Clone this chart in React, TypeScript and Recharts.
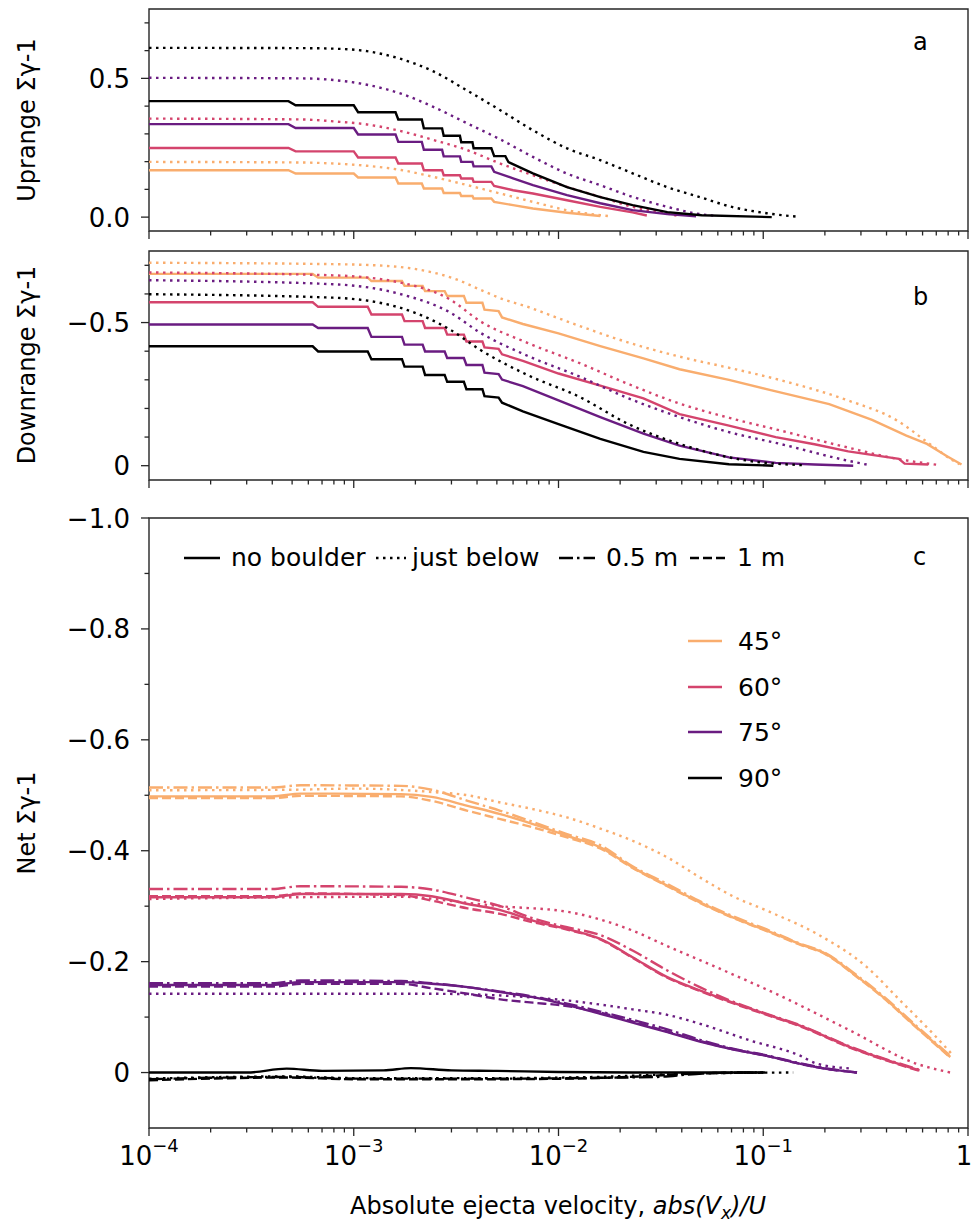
import React from "react";
import { LineChart, Line, XAxis, YAxis, ReferenceArea, Customized } from "recharts";

const FONT = "DejaVu Sans";
const AXIS = "#262626";

const ANGLES = ["45°", "60°", "75°", "90°"];
const ANGLE_COLORS = ["#f9ad6e", "#d4446d", "#6a1c81", "#000000"];
const BOULDERS = ["no boulder", "just below", "0.5 m", "1 m"];
const BOULDER_DASH = [undefined, "2.5 4.5", "14 4 2.5 4", "9 4"];

const X_MAJOR = [1e-4, 1e-3, 1e-2, 1e-1, 1];
const X_MINOR = X_MAJOR.slice(0, 4).flatMap((d) => [2, 3, 4, 5, 6, 7, 8, 9].map((m) => m * d));
const X_TICKS = [...X_MAJOR, ...X_MINOR];

// panel a: uprange
const UP_MAJOR = [0, 0.5];
const UP_LABELS = ["0.0", "0.5"];
const UP_MINOR = [0.1, 0.2, 0.3, 0.4, 0.6, 0.7];

const up45Solid = [[1e-4,0.169],[4.8e-4,0.169],[5.2e-4,0.157],[1e-3,0.157],[1.05e-3,0.143],[1.6e-3,0.143],[1.65e-3,0.121],[2.15e-3,0.121],[2.2e-3,0.103],[2.7e-3,0.103],[2.75e-3,0.087],[3.3e-3,0.087],[3.35e-3,0.076],[3.8e-3,0.076],[3.85e-3,0.067],[4.7e-3,0.067],[4.85e-3,0.055],[6e-3,0.043],[7.5e-3,0.031],[1.1e-2,0.016],[1.6e-2,0.004]];
const up60Solid = [[1e-4,0.249],[4.8e-4,0.249],[5.2e-4,0.237],[1e-3,0.237],[1.05e-3,0.215],[1.6e-3,0.215],[1.65e-3,0.193],[2.15e-3,0.193],[2.2e-3,0.169],[2.7e-3,0.169],[2.75e-3,0.151],[3.3e-3,0.151],[3.35e-3,0.139],[3.8e-3,0.139],[3.85e-3,0.127],[4.7e-3,0.127],[4.85e-3,0.112],[6e-3,0.097],[7.5e-3,0.085],[1.1e-2,0.061],[1.6e-2,0.037],[2.3e-2,0.017],[2.7e-2,0.006]];
const up75Solid = [[1e-4,0.335],[4.8e-4,0.335],[5.2e-4,0.321],[1e-3,0.321],[1.05e-3,0.298],[1.6e-3,0.298],[1.65e-3,0.271],[2.15e-3,0.271],[2.2e-3,0.243],[2.7e-3,0.243],[2.75e-3,0.219],[3.3e-3,0.219],[3.35e-3,0.199],[3.8e-3,0.199],[3.85e-3,0.183],[4.7e-3,0.183],[4.85e-3,0.163],[6e-3,0.14],[7.5e-3,0.115],[1.1e-2,0.079],[1.6e-2,0.05],[2.3e-2,0.025],[3.4e-2,0.011],[4.7e-2,0.003]];
const up90Solid = [[1e-4,0.418],[4.8e-4,0.418],[5.2e-4,0.403],[1e-3,0.403],[1.05e-3,0.378],[1.6e-3,0.378],[1.65e-3,0.352],[2.15e-3,0.352],[2.2e-3,0.32],[2.7e-3,0.32],[2.75e-3,0.293],[3.3e-3,0.293],[3.35e-3,0.27],[3.8e-3,0.27],[3.85e-3,0.248],[4.7e-3,0.248],[4.85e-3,0.22],[5.5e-3,0.22],[5.7e-3,0.198],[7.5e-3,0.158],[1.1e-2,0.108],[1.6e-2,0.072],[2.3e-2,0.043],[3.4e-2,0.018],[5e-2,0.007],[1.1e-1,0]];
const up45Dot = [[1e-4,0.199],[5.5e-4,0.197],[8e-4,0.193],[1.16e-3,0.185],[1.7e-3,0.17],[2.45e-3,0.145],[3.6e-3,0.115],[5.2e-3,0.085],[7.5e-3,0.055],[1.1e-2,0.025],[1.6e-2,0.007],[1.8e-2,0.003]];
const up60Dot = [[1e-4,0.355],[5.5e-4,0.352],[8e-4,0.345],[1.16e-3,0.334],[1.7e-3,0.31],[2.45e-3,0.278],[3.6e-3,0.241],[5.2e-3,0.193],[7.5e-3,0.151],[1.1e-2,0.109],[1.6e-2,0.073],[2.3e-2,0.037],[3.4e-2,0.013],[3.8e-2,0.005]];
const up75Dot = [[1e-4,0.502],[5.5e-4,0.5],[8e-4,0.494],[1.16e-3,0.477],[1.7e-3,0.445],[2.45e-3,0.397],[3.6e-3,0.337],[5.2e-3,0.28],[7.5e-3,0.217],[1.1e-2,0.157],[1.6e-2,0.115],[2.3e-2,0.073],[3.4e-2,0.037],[4.9e-2,0.011],[6e-2,0.004]];
const up90Dot = [[1e-4,0.61],[5.5e-4,0.609],[8e-4,0.607],[1.16e-3,0.598],[1.7e-3,0.57],[2.45e-3,0.525],[3.6e-3,0.455],[5.2e-3,0.385],[7.5e-3,0.313],[1.1e-2,0.248],[1.6e-2,0.205],[2.3e-2,0.158],[3.4e-2,0.108],[4.9e-2,0.072],[7.1e-2,0.036],[1.04e-1,0.014],[1.5e-1,0.001]];

// panel b: downrange
const DOWN_MAJOR = [-0.5, 0];
const DOWN_LABELS = ["\u22120.5", "0"];
const DOWN_MINOR = [-0.7, -0.6, -0.4, -0.3, -0.2, -0.1];

const down45Solid = [[1e-4,-0.67],[6.3e-4,-0.67],[6.7e-4,-0.657],[1.17e-3,-0.657],[1.22e-3,-0.645],[1.72e-3,-0.645],[1.77e-3,-0.628],[2.17e-3,-0.628],[2.23e-3,-0.61],[2.78e-3,-0.61],[2.86e-3,-0.593],[3.45e-3,-0.593],[3.55e-3,-0.569],[4.25e-3,-0.569],[4.35e-3,-0.545],[5.1e-3,-0.54],[5.3e-3,-0.518],[6.7e-3,-0.495],[1e-2,-0.462],[1.6e-2,-0.418],[2.6e-2,-0.375],[3.9e-2,-0.337],[6.8e-2,-0.3],[1.1e-1,-0.263],[2.1e-1,-0.215],[3.4e-1,-0.16],[5e-1,-0.105],[6.3e-1,-0.076],[7.9e-1,-0.033],[9.3e-1,-0.004]];
const down60Solid = [[1e-4,-0.571],[6.3e-4,-0.571],[6.7e-4,-0.555],[1.17e-3,-0.555],[1.22e-3,-0.528],[1.72e-3,-0.528],[1.77e-3,-0.505],[2.17e-3,-0.505],[2.23e-3,-0.481],[2.78e-3,-0.481],[2.86e-3,-0.458],[3.45e-3,-0.458],[3.55e-3,-0.434],[4.25e-3,-0.434],[4.35e-3,-0.413],[5.1e-3,-0.408],[5.3e-3,-0.389],[6.7e-3,-0.366],[1e-2,-0.322],[1.6e-2,-0.28],[2.6e-2,-0.235],[3.9e-2,-0.18],[6.8e-2,-0.14],[1.15e-1,-0.1],[1.78e-1,-0.075],[2.6e-1,-0.05],[4.6e-1,-0.024],[4.9e-1,-0.007],[6.4e-1,-0.004]];
const down75Solid = [[1e-4,-0.493],[6.3e-4,-0.493],[6.7e-4,-0.481],[1.17e-3,-0.481],[1.22e-3,-0.45],[1.72e-3,-0.45],[1.77e-3,-0.423],[2.17e-3,-0.423],[2.23e-3,-0.399],[2.78e-3,-0.399],[2.86e-3,-0.376],[3.45e-3,-0.376],[3.55e-3,-0.352],[4.25e-3,-0.352],[4.35e-3,-0.325],[5.1e-3,-0.32],[5.3e-3,-0.301],[6.7e-3,-0.278],[1e-2,-0.228],[1.6e-2,-0.17],[2.6e-2,-0.112],[3.9e-2,-0.07],[6.8e-2,-0.029],[1.15e-1,-0.01],[1.78e-1,-0.004],[2.75e-1,0]];
const down90Solid = [[1e-4,-0.417],[6.3e-4,-0.417],[6.7e-4,-0.399],[1.17e-3,-0.399],[1.22e-3,-0.372],[1.72e-3,-0.372],[1.77e-3,-0.346],[2.17e-3,-0.346],[2.23e-3,-0.317],[2.78e-3,-0.317],[2.86e-3,-0.293],[3.45e-3,-0.293],[3.55e-3,-0.267],[4.25e-3,-0.267],[4.35e-3,-0.243],[5.1e-3,-0.238],[5.3e-3,-0.22],[6.7e-3,-0.19],[1e-2,-0.145],[1.6e-2,-0.094],[2.6e-2,-0.048],[3.9e-2,-0.024],[6.8e-2,-0.005],[1.12e-1,0]];
const down45Dot = [[1e-4,-0.709],[7.9e-4,-0.704],[1.44e-3,-0.698],[2.33e-3,-0.678],[3.2e-3,-0.65],[4.14e-3,-0.615],[5.2e-3,-0.585],[7e-3,-0.556],[1e-2,-0.515],[1.27e-2,-0.488],[2.2e-2,-0.43],[3.9e-2,-0.381],[7e-2,-0.34],[1.21e-1,-0.299],[2.57e-1,-0.229],[4.5e-1,-0.158],[6.5e-1,-0.076],[8.45e-1,-0.018],[9.1e-1,-0.005]];
const down60Dot = [[1e-4,-0.675],[7.9e-4,-0.665],[1.68e-3,-0.64],[2.96e-3,-0.58],[4.14e-3,-0.505],[7e-3,-0.43],[1.27e-2,-0.358],[2.2e-2,-0.285],[3.9e-2,-0.217],[7e-2,-0.165],[1.21e-1,-0.123],[2.57e-1,-0.064],[4.5e-1,-0.024],[7.1e-1,-0.003]];
const down75Dot = [[1e-4,-0.648],[7.9e-4,-0.634],[1.68e-3,-0.6],[2.96e-3,-0.535],[4.14e-3,-0.465],[7e-3,-0.385],[1.27e-2,-0.311],[2.2e-2,-0.235],[3.9e-2,-0.17],[7e-2,-0.115],[1.21e-1,-0.076],[2.57e-1,-0.018],[3.25e-1,-0.003]];
const down90Dot = [[1e-4,-0.599],[7.9e-4,-0.587],[1.68e-3,-0.552],[2.96e-3,-0.475],[4.14e-3,-0.405],[7e-3,-0.318],[1.27e-2,-0.24],[2.2e-2,-0.145],[3.9e-2,-0.076],[8.3e-2,-0.018],[1.55e-1,-0.002]];

// panel c: net
const NET_MAJOR = [-1, -0.8, -0.6, -0.4, -0.2, 0];
const NET_LABELS = ["\u22121.0", "\u22120.8", "\u22120.6", "\u22120.4", "\u22120.2", "0"];
const NET_MINOR = [-0.9, -0.7, -0.5, -0.3, -0.1];

const net45Solid = [[1e-4,-0.498],[4e-4,-0.498],[5.5e-4,-0.503],[1.7e-3,-0.502],[2.4e-3,-0.497],[3.6e-3,-0.481],[5.2e-3,-0.466],[7.5e-3,-0.448],[1.1e-2,-0.427],[1.6e-2,-0.406],[2.3e-2,-0.37],[3.4e-2,-0.337],[4.9e-2,-0.307],[7.1e-2,-0.28],[1.04e-1,-0.256],[1.5e-1,-0.232],[2e-1,-0.215],[2.9e-1,-0.172],[3.85e-1,-0.136],[5.6e-1,-0.082],[8.2e-1,-0.028]];
const net45Dot = [[1e-4,-0.509],[5e-4,-0.51],[1e-3,-0.512],[2.4e-3,-0.506],[3.6e-3,-0.5],[5.2e-3,-0.487],[7.5e-3,-0.475],[1.1e-2,-0.46],[1.6e-2,-0.44],[2.3e-2,-0.418],[3.4e-2,-0.388],[4.9e-2,-0.352],[7.1e-2,-0.318],[1.04e-1,-0.292],[1.83e-1,-0.25],[3.21e-1,-0.19],[4.66e-1,-0.13],[6.75e-1,-0.07],[8.5e-1,-0.03]];
const net45DashDot = [[1e-4,-0.514],[4e-4,-0.514],[5.5e-4,-0.518],[1.7e-3,-0.517],[2.4e-3,-0.51],[3.6e-3,-0.49],[5.2e-3,-0.472],[7.5e-3,-0.452],[1.1e-2,-0.43],[1.6e-2,-0.41],[2.3e-2,-0.372],[3.4e-2,-0.34],[4.9e-2,-0.309],[7.1e-2,-0.282],[1.04e-1,-0.258],[1.5e-1,-0.233],[2e-1,-0.216],[2.9e-1,-0.174],[3.85e-1,-0.138],[5.6e-1,-0.084],[8.2e-1,-0.03]];
const net45Dash = [[1e-4,-0.495],[4e-4,-0.495],[5.5e-4,-0.499],[1.7e-3,-0.498],[2.4e-3,-0.49],[3.6e-3,-0.472],[5.2e-3,-0.457],[7.5e-3,-0.442],[1.1e-2,-0.424],[1.6e-2,-0.404],[2.3e-2,-0.369],[3.4e-2,-0.336],[4.9e-2,-0.306],[7.1e-2,-0.279],[1.04e-1,-0.255],[1.5e-1,-0.231],[2e-1,-0.214],[2.9e-1,-0.171],[3.85e-1,-0.135],[5.6e-1,-0.081],[8.2e-1,-0.027]];
const net60Solid = [[1e-4,-0.316],[4e-4,-0.316],[5.5e-4,-0.322],[1.7e-3,-0.322],[2.4e-3,-0.318],[3.6e-3,-0.304],[5.2e-3,-0.293],[7.5e-3,-0.274],[1.1e-2,-0.259],[1.6e-2,-0.241],[2.3e-2,-0.208],[3.4e-2,-0.172],[4.9e-2,-0.148],[7.1e-2,-0.126],[1.04e-1,-0.105],[1.5e-1,-0.085],[2.65e-1,-0.046],[5.8e-1,-0.004]];
const net60Dot = [[1e-4,-0.313],[1.7e-3,-0.317],[3.6e-3,-0.306],[5.2e-3,-0.3],[1.1e-2,-0.29],[1.6e-2,-0.276],[2.3e-2,-0.256],[3.4e-2,-0.228],[5.9e-2,-0.19],[1.25e-1,-0.136],[2.65e-1,-0.076],[5.6e-1,-0.016],[8.2e-1,0]];
const net60DashDot = [[1e-4,-0.331],[4e-4,-0.331],[5.5e-4,-0.336],[1.7e-3,-0.335],[2.4e-3,-0.33],[3.6e-3,-0.315],[5.2e-3,-0.3],[7.5e-3,-0.278],[1.1e-2,-0.262],[1.6e-2,-0.248],[2.3e-2,-0.22],[3.4e-2,-0.184],[4.9e-2,-0.154],[7.1e-2,-0.128],[1.04e-1,-0.106],[1.5e-1,-0.086],[2.65e-1,-0.047],[5.8e-1,-0.005]];
const net60Dash = [[1e-4,-0.318],[4e-4,-0.318],[5.5e-4,-0.323],[1.7e-3,-0.32],[2.4e-3,-0.31],[3.6e-3,-0.296],[5.2e-3,-0.286],[7.5e-3,-0.271],[1.1e-2,-0.258],[1.6e-2,-0.24],[2.3e-2,-0.207],[3.4e-2,-0.171],[4.9e-2,-0.147],[7.1e-2,-0.125],[1.04e-1,-0.104],[1.5e-1,-0.084],[2.65e-1,-0.045],[5.8e-1,-0.003]];
const net75Solid = [[1e-4,-0.158],[4e-4,-0.158],[5.5e-4,-0.163],[1.7e-3,-0.163],[2.4e-3,-0.16],[3.6e-3,-0.154],[5.2e-3,-0.145],[7.5e-3,-0.136],[1.6e-2,-0.106],[2.3e-2,-0.09],[3.4e-2,-0.073],[4.9e-2,-0.056],[7.1e-2,-0.042],[1.04e-1,-0.03],[1.5e-1,-0.016],[2e-1,-0.007],[2.87e-1,0]];
const net75Dot = [[1e-4,-0.142],[2.4e-3,-0.142],[5.2e-3,-0.139],[1.1e-2,-0.13],[2.3e-2,-0.114],[3.4e-2,-0.104],[4.9e-2,-0.088],[8.6e-2,-0.058],[1.5e-1,-0.031],[1.83e-1,-0.016],[2.75e-1,-0.007]];
const net75DashDot = [[1e-4,-0.161],[4e-4,-0.161],[5.5e-4,-0.166],[1.7e-3,-0.165],[2.4e-3,-0.161],[5.2e-3,-0.146],[7.5e-3,-0.137],[1.6e-2,-0.11],[2.3e-2,-0.095],[3.4e-2,-0.078],[4.9e-2,-0.059],[7.1e-2,-0.043],[1.04e-1,-0.031],[1.5e-1,-0.017],[2e-1,-0.008],[2.87e-1,0]];
const net75Dash = [[1e-4,-0.155],[4e-4,-0.155],[5.5e-4,-0.16],[1.7e-3,-0.16],[2.4e-3,-0.152],[3.6e-3,-0.142],[5.2e-3,-0.132],[7.5e-3,-0.126],[1.1e-2,-0.12],[1.6e-2,-0.108],[2.3e-2,-0.092],[3.4e-2,-0.074],[4.9e-2,-0.057],[7.1e-2,-0.042],[1.04e-1,-0.03],[1.5e-1,-0.016],[2e-1,-0.007],[2.87e-1,0]];
const net90Solid = [[1e-4,0],[3e-4,0],[4.7e-4,-0.007],[7e-4,-0.003],[1.4e-3,-0.004],[1.9e-3,-0.008],[3e-3,-0.004],[5e-3,-0.003],[1e-2,-0.001],[3e-2,0],[1.02e-1,0]];
const net90Dot = [[1e-4,0.011],[4.7e-4,0.007],[1e-3,0.01],[5e-3,0.01],[1.5e-2,0.008],[3e-2,0.004],[6e-2,0.001],[1.4e-1,0]];
const net90DashDot = [[1e-4,0.012],[4.7e-4,0.008],[1e-3,0.011],[5e-3,0.011],[2e-2,0.009],[3e-2,0.008],[4.5e-2,0.003],[7e-2,0],[1e-1,0]];
const net90Dash = [[1e-4,0.014],[4.7e-4,0.009],[1e-3,0.012],[5e-3,0.012],[1.5e-2,0.01],[2.5e-2,0.007],[4.5e-2,0.002],[1e-1,0]];

const UP_SOLID = [up45Solid, up60Solid, up75Solid, up90Solid];
const UP_DOT = [up45Dot, up60Dot, up75Dot, up90Dot];
const DOWN_SOLID = [down45Solid, down60Solid, down75Solid, down90Solid];
const DOWN_DOT = [down45Dot, down60Dot, down75Dot, down90Dot];
const NET = [
  [net45Solid, net45Dot, net45DashDot, net45Dash],
  [net60Solid, net60Dot, net60DashDot, net60Dash],
  [net75Solid, net75Dot, net75DashDot, net75Dash],
  [net90Solid, net90Dot, net90DashDot, net90Dash],
];

type Series = { data: number[][]; color: string; dash?: string; smooth: boolean };

const upSeries: Series[] = ANGLES.flatMap((_, i) => [
  { data: UP_DOT[i], color: ANGLE_COLORS[i], dash: BOULDER_DASH[1], smooth: true },
  { data: UP_SOLID[i], color: ANGLE_COLORS[i], dash: BOULDER_DASH[0], smooth: false },
]);
const downSeries: Series[] = ANGLES.flatMap((_, i) => [
  { data: DOWN_DOT[i], color: ANGLE_COLORS[i], dash: BOULDER_DASH[1], smooth: true },
  { data: DOWN_SOLID[i], color: ANGLE_COLORS[i], dash: BOULDER_DASH[0], smooth: false },
]);
const netSeries: Series[] = ANGLES.flatMap((_, i) =>
  [1, 3, 2, 0].map((k) => ({ data: NET[i][k], color: ANGLE_COLORS[i], dash: BOULDER_DASH[k], smooth: true }))
);

const toPts = (arr: number[][]) => arr.map(([x, y]) => ({ x, y }));
const zip = (vals: number[], labels: string[]) => vals.map((v, i) => [v, labels[i]] as [number, string]);

function XTick(props: any) {
  const { x, y, payload, showLabel } = props;
  const lv = Math.log10(payload.value);
  const exp = Math.round(lv);
  const major = Math.abs(lv - exp) < 1e-6;
  return (
    <g>
      <line x1={x} x2={x} y1={y} y2={y + (major ? 8 : 4.5)} stroke={AXIS} strokeWidth={1.3} />
      {major && showLabel && (
        <text x={exp === 0 ? x - 4 : x} y={y + 37} textAnchor="middle" fontSize={26} fontFamily={FONT} fill="#000">
          {exp === 0 ? (
            "1"
          ) : (
            <>
              <tspan>10</tspan>
              <tspan dy={-13} fontSize={18}>{"\u2212" + Math.abs(exp)}</tspan>
            </>
          )}
        </text>
      )}
    </g>
  );
}

function YTick(props: any) {
  const { x, y, payload, labels } = props;
  const hit = labels.find((l: [number, string]) => Math.abs(l[0] - payload.value) < 1e-9);
  return (
    <g>
      <line x1={x - (hit ? 8 : 4.5)} x2={x} y1={y} y2={y} stroke={AXIS} strokeWidth={1.3} />
      {hit && (
        <text x={x - 19} y={y + 9.5} textAnchor="end" fontSize={26} fontFamily={FONT} fill="#000">
          {hit[1]}
        </text>
      )}
    </g>
  );
}

function Decor(props: any) {
  const { title, titleY, letter, letterY, children } = props;
  return (
    <g fontFamily={FONT} fill="#000">
      <text x={35} y={titleY} transform={`rotate(-90 35 ${titleY})`} textAnchor="middle" fontSize={24}>
        {title}
      </text>
      <text x={913} y={letterY} fontSize={24}>{letter}</text>
      {children}
    </g>
  );
}

const LEG_X = [184, 376, 559, 690];
const LEG_W = [36, 30, 36, 36];
const LEG_TX = [231, 412, 606, 737];
const ANG_Y = [146, 192, 237, 283];

function NetExtras() {
  return (
    <g fontFamily={FONT} fill="#000">
      {BOULDERS.map((name, i) => (
        <g key={name}>
          <line x1={LEG_X[i]} x2={LEG_X[i] + LEG_W[i]} y1={63} y2={63} stroke="#000" strokeWidth={2.4} strokeDasharray={BOULDER_DASH[i]} />
          <text x={LEG_TX[i]} y={71} fontSize={25}>{name}</text>
        </g>
      ))}
      {ANGLES.map((name, i) => (
        <g key={name}>
          <line x1={688} x2={722} y1={ANG_Y[i]} y2={ANG_Y[i]} stroke={ANGLE_COLORS[i]} strokeWidth={2.4} />
          <text x={738} y={ANG_Y[i] + 9} fontSize={25}>{name}</text>
        </g>
      ))}
      <text x={558} y={719} textAnchor="middle" fontSize={24}>
        {"Absolute ejecta velocity, "}
        <tspan fontStyle="italic">abs(V</tspan>
        <tspan fontStyle="italic" fontSize={17} dy={5}>x</tspan>
        <tspan fontStyle="italic" dy={-5}>)/U</tspan>
      </text>
    </g>
  );
}

function Panel(props: any) {
  const { height, marginTop, xAxisHeight, domain, reversed, yMajor, yLabels, yMinor, series, showX, decor } = props;
  return (
    <LineChart width={974} height={height} margin={{ top: marginTop, right: 6, bottom: 0, left: 0 }}>
      <XAxis
        dataKey="x"
        type="number"
        scale="log"
        domain={[1e-4, 1]}
        allowDataOverflow
        ticks={X_TICKS}
        interval={0}
        axisLine={false}
        tickLine={false}
        tickSize={0}
        tickMargin={0}
        height={xAxisHeight}
        tick={<XTick showLabel={showX} />}
      />
      <YAxis
        type="number"
        domain={domain}
        reversed={reversed}
        allowDataOverflow
        ticks={[...yMajor, ...yMinor]}
        interval={0}
        axisLine={false}
        tickLine={false}
        tickSize={0}
        tickMargin={0}
        width={149}
        tick={<YTick labels={zip(yMajor, yLabels)} />}
      />
      <ReferenceArea x1={1e-4} x2={1} y1={domain[0]} y2={domain[1]} fill="none" fillOpacity={0} stroke={AXIS} strokeWidth={1.4} />
      {series.map((s: Series, i: number) => (
        <Line
          key={i}
          data={toPts(s.data)}
          dataKey="y"
          type={s.smooth ? "monotone" : "linear"}
          stroke={s.color}
          strokeWidth={2.4}
          strokeDasharray={s.dash}
          dot={false}
          activeDot={false}
          isAnimationActive={false}
        />
      ))}
      <Customized component={decor} />
    </LineChart>
  );
}

export default function App() {
  return (
    <div style={{ position: "absolute", left: 0, top: 0, width: 974, height: 1222, background: "#fff" }}>
      <div style={{ position: "absolute", left: 0, top: 0 }}>
        <Panel
          height={245}
          marginTop={9}
          xAxisHeight={14}
          domain={[-0.05, 0.75]}
          reversed={false}
          yMajor={UP_MAJOR}
          yLabels={UP_LABELS}
          yMinor={UP_MINOR}
          series={upSeries}
          showX={false}
          decor={<Decor title="Uprange Σγ-1" titleY={120} letter="a" letterY={50} />}
        />
      </div>
      <div style={{ position: "absolute", left: 0, top: 245 }}>
        <Panel
          height={250}
          marginTop={6}
          xAxisHeight={15}
          domain={[-0.75, 0.05]}
          reversed={true}
          yMajor={DOWN_MAJOR}
          yLabels={DOWN_LABELS}
          yMinor={DOWN_MINOR}
          series={downSeries}
          showX={false}
          decor={<Decor title="Downrange Σγ-1" titleY={120} letter="b" letterY={60} />}
        />
      </div>
      <div style={{ position: "absolute", left: 0, top: 495 }}>
        <Panel
          height={727}
          marginTop={23}
          xAxisHeight={94}
          domain={[-1.0, 0.1]}
          reversed={true}
          yMajor={NET_MAJOR}
          yLabels={NET_LABELS}
          yMinor={NET_MINOR}
          series={netSeries}
          showX={true}
          decor={
            <Decor title="Net Σγ-1" titleY={328} letter="c" letterY={70}>
              <NetExtras />
            </Decor>
          }
        />
      </div>
    </div>
  );
}
